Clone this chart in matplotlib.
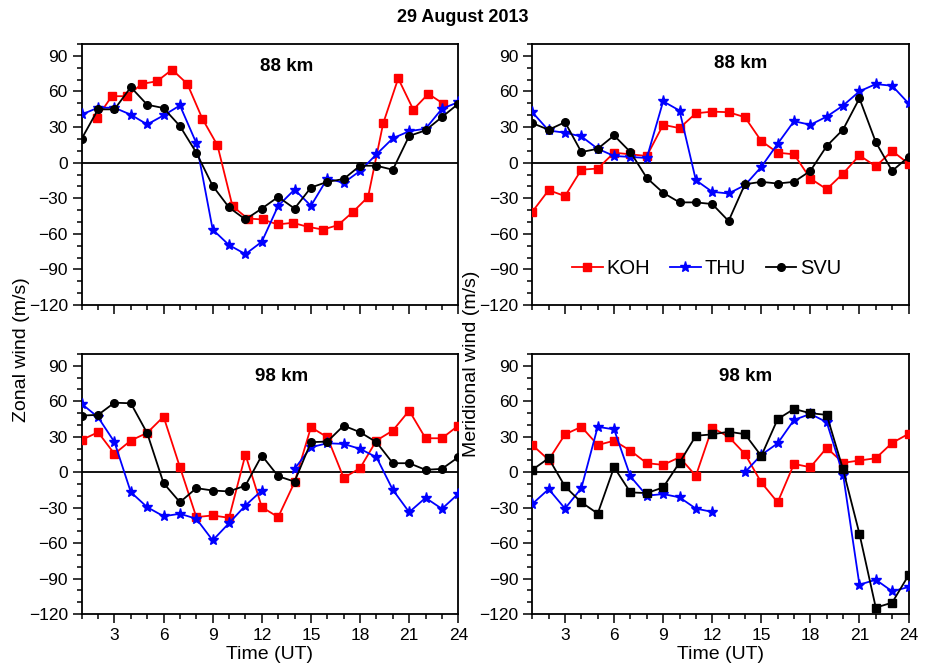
"""Zonal and meridional winds at 88 and 98 km, KOH / THU / SVU, 29 Aug 2013."""

import matplotlib
matplotlib.use("Agg")
import matplotlib.pyplot as plt
import numpy as np
from matplotlib.ticker import MultipleLocator

plt.rcParams["font.family"] = ["Liberation Sans", "DejaVu Sans"]

hours = list(range(1, 25))
# KOH zonal 88 km samples are not on the hour
koh_t88 = [1.92, 2.84, 3.76, 4.68, 5.60, 6.52, 7.45, 8.37, 9.29, 10.21, 11.13, 12.05,
           12.97, 13.89, 14.81, 15.73, 16.65, 17.57, 18.49, 19.41, 20.33, 21.25, 22.17, 23.09]

koh_zon88 = [37.5, 56, 56, 66.4, 68.6, 78.4, 66.4, 37, 14.6, -36.7, -47.1, -47.9,
             -52.1, -50.7, -54.1, -56.4, -52.7, -41.5, -28.9, 33, 71, 44.7, 58, 49.6]
thu_zon88 = [40.6, 46.3, 46.3, 40.4, 32.2, 39.8, 48.2, 16.5, -56.4, -69.5, -77.1, -66.7,
             -36.4, -22.7, -36.4, -13.4, -17, -7, 7, 20.5, 26.5, 28.6, 45.4, 51]
svu_zon88 = [20.2, 44.9, 44.9, 63.6, 48.8, 46, 30.8, 8.4, -19.6, -37.8, -47.9, -38.7,
             -28.9, -38.7, -21, -16.2, -13.8, -2.6, -2.6, -6, 22.5, 27.2, 38.4, 49.6]

koh_mer88 = [-41.4, -23.2, -28.2, -5.9, -5, 8.4, 7, 5.6, 31.9, 29.1, 41.6, 43,
             42.5, 38.3, 18.2, 8.4, 7, -13.4, -22.4, -9.2, 6.1, -3.1, 9.8, -0.8]
thu_mer88 = [42.5, 27.1, 25.2, 22.1, 11.7, 5.6, 4.8, 3.9, 51.7, 43.9, -14.8, -24.6,
             -26, -19, -3.6, 15.9, 34.9, 31.9, 38.8, 48.1, 60.1, 66.2, 64.8, 50]
svu_mer88 = [33.3, 27.7, 34.1, 8.9, 11.7, 22.9, 8.9, -12.9, -25.4, -33.5, -33.5, -34.9,
             -49.2, -18.2, -16.2, -17.6, -16.2, -7, 14, 27.9, 54.2, 17.3, -7, 4.8]

koh_zon98 = [27.3, 33.8, 15.5, 26.8, 33.3, 47, 4.2, -38, -36.6, -38.6, 14.9, -29.6,
             -38, -8.5, 38, 29.6, -4.8, 3.4, 26.8, 35.2, 52.1, 28.7, 28.7, 39.4]
thu_zon98 = [57.8, 46.5, 25.5, -16.9, -29.6, -37.3, -35.2, -39.4, -57.7, -43.1, -28.2, -15.5,
             np.nan, 2.8, 21.1, 24.5, 23.9, 19.7, 12.7, -14.9, -33.8, -21.7, -31, -18.3]
svu_zon98 = [47.9, 48.5, 58.8, 58.3, 33, -9.3, -25.4, -13.5, -15.5, -16.3, -11.3, 14.1,
             -3.4, -8, 25.4, 25.9, 39.4, 33.8, 25.4, 7.6, 7.6, 2, 2.8, 12.7]

koh_mer98 = [23, 10.4, 32, 38.4, 23, 26.6, 18.2, 7.6, 6.2, 12.6, -3.1, 37.6,
             30, 15.4, -8.7, -25.5, 7, 4.2, 20.6, 7.9, 9.9, 11.8, 24.8, 32.4]
thu_mer98 = [-26.9, -14.3, -30.8, -13.5, 38.4, 36.2, -3.6, -19.9, -18.5, -21.3, -30.8, -33.6,
             np.nan, 0, 14.6, 24.4, 44.2, 49.3, 42.3, -2, -95.2, -91, -100.8, -97.2]
svu_mer98 = [2, 11.8, -12.1, -25.5, -35, 4.2, -17.1, -17.7, -12.9, 8.1, 30.8, 32,
             34.2, 32.2, 13.7, 44.9, 53.5, 49.9, 48.5, 2.3, -52.1, -114.6, -110.4, -87.3]

fig = plt.figure(figsize=(9.25, 6.7), dpi=100)
W, H = 925, 670


def add_axes(x0, x1, y0, y1):
    return fig.add_axes([x0 / W, 1 - y1 / H, (x1 - x0) / W, (y1 - y0) / H])


ax_tl = add_axes(81.7, 458.3, 44, 305)
ax_tr = add_axes(532.3, 908.5, 44, 305)
ax_bl = add_axes(81.7, 458.3, 354, 614)
ax_br = add_axes(532.3, 908.5, 354, 614)

panels = [
    (ax_tl, "88 km", (0.545, 0.914), [(koh_t88, koh_zon88), (hours, thu_zon88), (hours, svu_zon88)], "o"),
    (ax_tr, "88 km", (0.555, 0.925), [(hours, koh_mer88), (hours, thu_mer88), (hours, svu_mer88)], "o"),
    (ax_bl, "98 km", (0.532, 0.913), [(hours, koh_zon98), (hours, thu_zon98), (hours, svu_zon98)], "o"),
    (ax_br, "98 km", (0.566, 0.913), [(hours, koh_mer98), (hours, thu_mer98), (hours, svu_mer98)], "s"),
]

for ax, label, pos, series, svu_marker in panels:
    (tk, k), (tt, t), (ts, s) = series
    ax.axhline(0, color="black", lw=1.3, zorder=1)
    ax.plot(tk, k, color="red", marker="s", ms=5.2, lw=1.3, label="KOH", zorder=3)
    ax.plot(tt, t, color="blue", marker="*", ms=8, lw=1.3, label="THU", zorder=3)
    ax.plot(ts, s, color="black", marker=svu_marker, ms=5.5 if svu_marker == "o" else 5.2,
            lw=1.3, label="SVU", zorder=3)
    ax.set_xlim(1, 24)
    ax.set_ylim(-120, 100)
    ax.xaxis.set_major_locator(MultipleLocator(3))
    ax.xaxis.set_minor_locator(MultipleLocator(1))
    ax.yaxis.set_major_locator(MultipleLocator(30))
    ax.yaxis.set_minor_locator(MultipleLocator(10))
    ax.tick_params(which="both", direction="out", top=False, right=False, width=1.1, labelsize=12.5)
    ax.tick_params(which="major", length=6.5)
    ax.tick_params(which="minor", length=3.5)
    for sp in ax.spines.values():
        sp.set_linewidth(1.3)
    ax.text(pos[0], pos[1], label, transform=ax.transAxes, ha="center", va="center",
            fontsize=13.5, fontweight="bold")

for ax in (ax_tl, ax_tr):
    ax.tick_params(labelbottom=False)
for ax in (ax_bl, ax_br):
    ax.set_xlabel("Time (UT)", fontsize=14, labelpad=2)

leg = ax_tr.legend(loc="center left", bbox_to_anchor=(0.085, 0.14), ncol=3, frameon=False,
                   fontsize=14.5, handlelength=1.5, handletextpad=0.2, columnspacing=1.0,
                   borderaxespad=0)

fig.text(463 / W, 1 - 17 / H, "29 August 2013", ha="center", va="center",
         fontsize=13, fontweight="bold")
fig.text(22 / W, 1 - 350 / H, "Zonal wind (m/s)", rotation=90, ha="center", va="center", fontsize=14)
fig.text(472 / W, 1 - 364 / H, "Meridional wind (m/s)", rotation=90, ha="center", va="center", fontsize=14)

fig.savefig("out.png", dpi=100)
